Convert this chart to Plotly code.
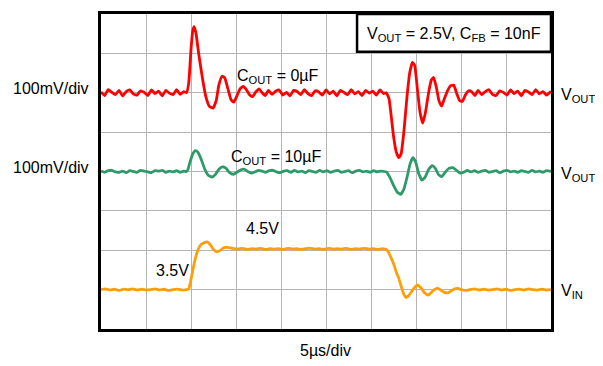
import plotly.graph_objects as go

# Oscilloscope capture: x in divisions (5 us/div), y in screen divisions

# V_OUT, C_OUT = 0uF (red)
vout0_t = [
    0.00, 0.08, 0.16, 0.24, 0.32, 0.40, 0.48, 0.56, 0.64, 0.72, 0.80, 0.88, 0.96,
    1.04, 1.12, 1.20, 1.28, 1.36, 1.44, 1.52, 1.60, 1.68, 1.76, 1.84, 1.90,
    1.95, 2.00, 2.04, 2.07, 2.11, 2.17, 2.25, 2.33, 2.41, 2.49, 2.56, 2.62, 2.69,
    2.75, 2.82, 2.89, 2.95, 3.02, 3.09, 3.16, 3.23, 3.30, 3.37, 3.44, 3.51, 3.58,
    3.65, 3.72,
    3.80, 3.88, 3.96, 4.04, 4.12, 4.20, 4.28, 4.36, 4.44, 4.52, 4.60, 4.68, 4.76,
    4.84, 4.92, 5.00, 5.08, 5.16, 5.24, 5.32, 5.40, 5.48, 5.56, 5.64, 5.72, 5.80,
    5.88, 5.96, 6.04, 6.12, 6.20, 6.28, 6.34,
    6.40, 6.45, 6.50, 6.56, 6.62, 6.67, 6.73, 6.80, 6.86, 6.92, 6.97, 7.03, 7.09,
    7.15, 7.21, 7.28, 7.34, 7.39, 7.45, 7.51, 7.57, 7.63, 7.70, 7.77, 7.84, 7.90,
    7.97, 8.03, 8.10, 8.17, 8.24, 8.31,
    8.38, 8.46, 8.54, 8.62, 8.70, 8.78, 8.86, 8.94, 9.02, 9.10, 9.18, 9.26, 9.34,
    9.42, 9.50, 9.58, 9.66, 9.74, 9.82, 9.90, 10.0,
]
vout0_v = [
    6.02, 5.93, 6.08, 6.01, 5.95, 6.06, 5.92, 6.03, 6.07, 5.97, 5.94, 6.05, 6.01,
    5.93, 6.07, 5.98, 6.04, 5.92, 6.06, 5.99, 5.95, 6.08, 5.96, 6.03, 6.00,
    6.25, 7.10, 7.58, 7.68, 7.52, 7.00, 6.40, 5.90, 5.65, 5.61, 5.80, 6.20, 6.42,
    6.38, 6.10, 5.82, 5.76, 5.92, 6.10, 6.16, 6.08, 5.95, 5.90, 6.02, 6.10, 6.00,
    5.93, 6.06,
    5.96, 6.04, 6.07, 5.94, 6.01, 5.92, 6.06, 6.03, 5.95, 6.08, 5.98, 5.93, 6.05,
    6.02, 5.94, 6.07, 5.97, 6.04, 5.92, 6.06, 6.01, 5.95, 6.08, 5.97, 6.03, 5.93,
    6.06, 5.99, 6.04, 5.94, 6.07, 5.98, 6.00,
    5.85, 5.40, 4.90, 4.50, 4.35, 4.45, 5.00, 5.90, 6.50, 6.77, 6.70, 6.10, 5.50,
    5.23, 5.50, 6.00, 6.32, 6.39, 6.15, 5.80, 5.66, 5.85, 6.05, 6.18, 6.19, 6.00,
    5.80, 5.78, 5.95, 6.05, 6.02, 5.93,
    6.06, 5.95, 6.03, 6.08, 5.96, 5.93, 6.05, 6.01, 5.94, 6.07, 5.98, 6.04, 5.92,
    6.06, 6.02, 5.95, 6.08, 5.97, 6.03, 5.94, 6.04,
]

# V_OUT, C_OUT = 10uF (green)
vout10_t = [
    0.00, 0.08, 0.16, 0.24, 0.32, 0.40, 0.48, 0.56, 0.64, 0.72, 0.80, 0.88, 0.96,
    1.04, 1.12, 1.20, 1.28, 1.36, 1.44, 1.52, 1.60, 1.68, 1.76, 1.84, 1.90,
    1.93, 1.98, 2.04, 2.10, 2.16, 2.23, 2.31, 2.39, 2.47, 2.54, 2.62, 2.70, 2.78,
    2.86, 2.94, 3.02, 3.10, 3.18, 3.26, 3.34, 3.42, 3.50, 3.58,
    3.66, 3.74, 3.82, 3.90, 3.98, 4.06, 4.14, 4.22, 4.30, 4.38, 4.46, 4.54, 4.62,
    4.70, 4.78, 4.86, 4.94, 5.02, 5.10, 5.18, 5.26, 5.34, 5.42, 5.50, 5.58, 5.66,
    5.74, 5.82, 5.90, 5.98, 6.06, 6.14, 6.22, 6.30,
    6.35, 6.42, 6.50, 6.58, 6.66, 6.73, 6.80, 6.87, 6.93, 6.99, 7.06, 7.13, 7.20,
    7.28, 7.36, 7.43, 7.50, 7.57, 7.65, 7.73, 7.82, 7.90, 7.98, 8.06, 8.14,
    8.22, 8.30, 8.38, 8.46, 8.54, 8.62, 8.70, 8.78, 8.86, 8.94, 9.02, 9.10, 9.18,
    9.26, 9.34, 9.42, 9.50, 9.58, 9.66, 9.74, 9.82, 9.90, 10.0,
]
vout10_v = [
    4.01, 3.98, 4.02, 4.03, 3.99, 3.98, 4.01, 3.97, 4.02, 4.00, 3.98, 4.03, 4.01,
    3.99, 3.97, 4.02, 4.01, 4.03, 3.98, 4.01, 3.99, 4.02, 3.98, 4.01, 4.00,
    4.05, 4.25, 4.45, 4.53, 4.48, 4.30, 4.05, 3.90, 3.86, 3.92, 4.06, 4.12, 4.08,
    3.97, 3.93, 3.98, 4.04, 4.06, 4.00, 3.96, 3.99, 4.03, 4.01,
    3.98, 4.02, 4.03, 3.99, 3.97, 4.01, 4.02, 3.98, 4.03, 3.99, 4.01, 3.97, 4.02,
    4.00, 3.98, 4.03, 3.99, 4.02, 3.98, 4.01, 4.03, 3.98, 4.00, 4.02, 3.97, 4.01,
    4.03, 3.99, 4.01, 3.98, 4.02, 3.99, 4.01, 4.00,
    3.98, 3.85, 3.65, 3.48, 3.42, 3.55, 3.85, 4.20, 4.35, 4.25, 3.95, 3.78, 3.85,
    4.05, 4.15, 4.08, 3.92, 3.87, 3.98, 4.08, 4.10, 4.03, 3.96, 3.98, 4.03,
    3.99, 4.02, 3.98, 4.01, 4.03, 3.98, 4.00, 4.02, 3.97, 4.01, 4.03, 3.99, 4.01,
    3.98, 4.02, 4.00, 3.98, 4.03, 3.99, 4.01, 3.98, 4.02, 4.00,
]

# V_IN (orange), 3.5V -> 4.5V -> 3.5V
vin_t = [
    0.0, 0.1, 0.2, 0.3, 0.4, 0.5, 0.6, 0.7, 0.8, 0.9, 1.0, 1.1, 1.2, 1.3, 1.4,
    1.5, 1.6, 1.7, 1.8, 1.9,
    1.95, 1.99, 2.05, 2.11, 2.17, 2.23, 2.29, 2.36, 2.43, 2.50, 2.57, 2.64, 2.71,
    2.79, 2.87, 2.95,
    3.05, 3.15, 3.25, 3.35, 3.45, 3.55, 3.65, 3.75, 3.85, 3.95, 4.05, 4.15, 4.25,
    4.35, 4.45, 4.55, 4.65, 4.75, 4.85, 4.95, 5.05, 5.15, 5.25, 5.35, 5.45, 5.55,
    5.65, 5.75, 5.85, 5.95, 6.05, 6.15, 6.25,
    6.31, 6.36, 6.40, 6.45, 6.51, 6.56, 6.62, 6.68, 6.73, 6.78, 6.84, 6.92, 6.99,
    7.05, 7.12, 7.19, 7.27, 7.34, 7.42, 7.49, 7.56, 7.63, 7.71, 7.78, 7.86, 7.93,
    8.00,
    8.1, 8.2, 8.3, 8.4, 8.5, 8.6, 8.7, 8.8, 8.9, 9.0, 9.1, 9.2, 9.3, 9.4, 9.5,
    9.6, 9.7, 9.8, 9.9, 10.0,
]
vin_v = [
    1.00, 1.02, 0.99, 1.01, 0.98, 1.01, 1.00, 1.02, 0.99, 1.01, 0.99, 1.00, 1.02,
    0.99, 1.01, 0.98, 1.00, 1.01, 0.99, 1.00,
    1.02, 1.20, 1.55, 1.85, 2.05, 2.15, 2.19, 2.21, 2.14, 2.02, 1.96, 1.99, 2.05,
    2.08, 2.06, 2.04,
    2.03, 2.05, 2.02, 2.04, 2.03, 2.05, 2.02, 2.04, 2.03, 2.04, 2.02, 2.05, 2.03,
    2.04, 2.02, 2.04, 2.05, 2.03, 2.04, 2.02, 2.05, 2.03, 2.04, 2.03, 2.05, 2.02,
    2.04, 2.03, 2.05, 2.03, 2.04, 2.02, 2.04,
    2.03, 2.00, 1.92, 1.80, 1.63, 1.45, 1.28, 1.05, 0.88, 0.80, 0.85, 0.98, 1.08,
    1.11, 1.03, 0.92, 0.86, 0.93, 1.01, 1.03, 0.98, 0.93, 0.92, 0.97, 1.02, 1.03,
    1.00,
    0.98, 1.00, 1.02, 0.99, 1.01, 0.99, 1.00, 1.02, 0.99, 1.01, 0.98, 1.00, 1.01,
    0.99, 1.02, 1.00, 0.99, 1.01, 0.99, 1.00,
]

assert len(vout0_t) == len(vout0_v)
assert len(vout10_t) == len(vout10_v)
assert len(vin_t) == len(vin_v)

FONT = "Arial, Liberation Sans, sans-serif"
X_DIVS, Y_DIVS = 10, 8

fig = go.Figure()
for t, v, color in [
    (vout0_t, vout0_v, "#FF0000"),
    (vout10_t, vout10_v, "#2E9A6A"),
    (vin_t, vin_v, "#FF9E0A"),
]:
    fig.add_trace(go.Scatter(
        x=t, y=v, mode="lines",
        line=dict(color=color, width=2.8, shape="spline", smoothing=0.4),
        showlegend=False, hoverinfo="skip",
    ))

# label box, top right
fig.add_shape(type="rect", xref="x", yref="y", x0=5.69, x1=10, y0=7.04, y1=8,
              fillcolor="white", line=dict(color="black", width=2.5), layer="above")

# (x div, y div, text, anchor) -- placed in paper coords so they can sit outside
notes = [
    (-1.11, 6.11, "100mV/div", "center"),
    (-1.11, 4.10, "100mV/div", "center"),
    (2.98, 6.40, "C<sub>OUT</sub> = 0µF", "left"),
    (2.84, 4.36, "C<sub>OUT</sub> = 10µF", "left"),
    (10.18, 5.94, "V<sub>OUT</sub>", "left"),
    (10.18, 3.92, "V<sub>OUT</sub>", "left"),
    (10.18, 0.94, "V<sub>IN</sub>", "left"),
    (3.18, 2.54, "4.5V", "left"),
    (1.18, 1.48, "3.5V", "left"),
    (4.98, -0.55, "5µs/div", "center"),
    (7.84, 7.48, "V<sub>OUT</sub> = 2.5V, C<sub>FB</sub> = 10nF", "center"),
]
for x, y, text, anchor in notes:
    fig.add_annotation(x=x / X_DIVS, y=y / Y_DIVS, xref="paper", yref="paper",
                       text=text, showarrow=False,
                       xanchor=anchor, yanchor="middle",
                       font=dict(family=FONT, size=16, color="black"))

axis = dict(showgrid=True, gridcolor="#B4B4B4", gridwidth=1, zeroline=False,
            showticklabels=False, ticks="", showline=True, linecolor="black",
            linewidth=3, mirror=True, dtick=1)

# page body adds ~8px offset, so the figure is 8px smaller than the window
fig.update_layout(
    width=595, height=358,
    margin=dict(l=93, r=52, t=3, b=37),
    paper_bgcolor="white", plot_bgcolor="white",
    xaxis=dict(range=[0, X_DIVS], **axis),
    yaxis=dict(range=[0, Y_DIVS], **axis),
    font=dict(family=FONT),
)

fig.write_html("out.html")
